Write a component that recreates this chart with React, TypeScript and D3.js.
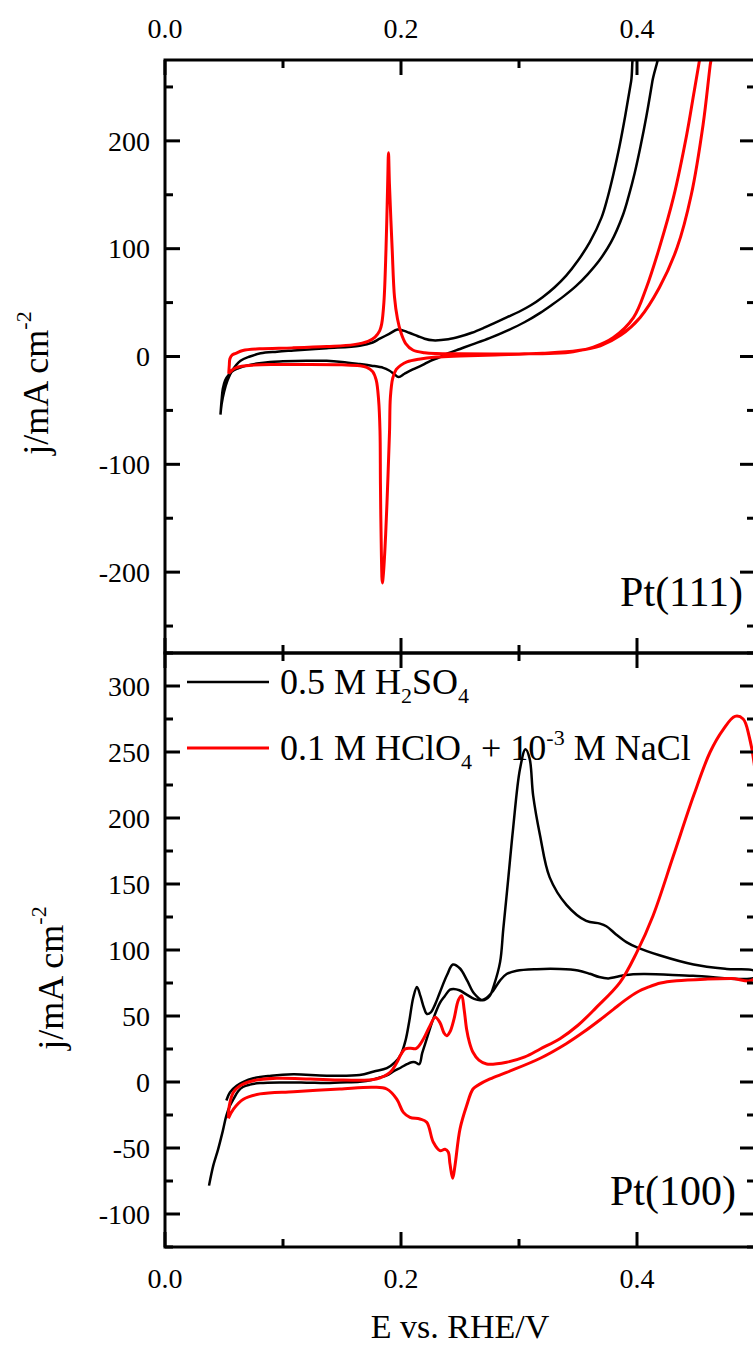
import * as d3 from "d3";

type Pt = [number, number];

// potential axis (V vs RHE)
const eTicks = [0, 0.1, 0.2, 0.3, 0.4, 0.5];
const eLabels = ["0.0", "", "0.2", "", "0.4", ""];

// current density ticks
const j111Ticks = [-250, -200, -150, -100, -50, 0, 50, 100, 150, 200, 250];
const j100Ticks = [-125, -100, -75, -50, -25, 0, 25, 50, 75, 100, 125, 150, 175, 200, 225, 250, 275, 300, 325];

// Pt(111), 0.5 M H2SO4
const pt111SulfAnodic: Pt[] = [
  [0.047, -54], [0.048, -44], [0.05, -33], [0.053, -22], [0.057, -13], [0.064, -4], [0.072, 0], [0.081, 3],
  [0.095, 4.5], [0.109, 5.6], [0.137, 7.7], [0.165, 10], [0.176, 13], [0.182, 16.5], [0.19, 21], [0.197, 25],
  [0.202, 24], [0.207, 22], [0.214, 19], [0.22, 16.5], [0.227, 15], [0.24, 16], [0.25, 18.5], [0.26, 22],
  [0.27, 26.5], [0.28, 31.5], [0.29, 36.5], [0.3, 41.5], [0.31, 47.5], [0.32, 55], [0.33, 64], [0.34, 75],
  [0.35, 89], [0.36, 106], [0.37, 129], [0.375, 147], [0.38, 169], [0.385, 194], [0.39, 223], [0.395, 255],
  [0.4, 290],
];
const pt111SulfCathodic: Pt[] = [
  [0.418, 290], [0.413, 255], [0.408, 223], [0.403, 195], [0.398, 170], [0.393, 149], [0.388, 131],
  [0.378, 106], [0.368, 89], [0.358, 76], [0.348, 65], [0.338, 56], [0.328, 48], [0.318, 40.5], [0.305, 32],
  [0.29, 24], [0.275, 17], [0.26, 11], [0.25, 7], [0.24, 3], [0.232, -1], [0.225, -4], [0.218, -8],
  [0.21, -12], [0.203, -16], [0.198, -19], [0.194, -16], [0.19, -13], [0.185, -10.5], [0.175, -8.5],
  [0.165, -7], [0.15, -5], [0.137, -4], [0.12, -4], [0.1, -4.5], [0.089, -5], [0.078, -6.5], [0.069, -8.5],
  [0.062, -11], [0.058, -13], [0.054, -17], [0.051, -22], [0.049, -30], [0.048, -40], [0.047, -54],
];

// Pt(111), 0.1 M HClO4 + 1e-3 M NaCl
const pt111ClAnodic: Pt[] = [
  [0.054, -16], [0.0545, -8], [0.055, -2], [0.057, 1.5], [0.06, 3], [0.066, 5.6], [0.08, 7.1], [0.108, 8],
  [0.137, 9.3], [0.16, 11], [0.172, 14], [0.178, 18], [0.182, 24], [0.1836, 30], [0.1855, 50], [0.1873, 100],
  [0.1887, 160], [0.1894, 189], [0.1902, 160], [0.1925, 100], [0.1945, 55], [0.197, 35], [0.2, 22],
  [0.204, 12], [0.21, 6], [0.22, 3.5], [0.23, 2.7], [0.25, 2.5], [0.3, 2.4], [0.33, 3], [0.346, 4.5],
  [0.363, 8.7], [0.38, 17.6], [0.397, 36], [0.408, 64], [0.419, 101], [0.431, 148], [0.442, 205],
  [0.448, 243], [0.453, 275], [0.456, 295],
];
const pt111ClCathodic: Pt[] = [
  [0.465, 295], [0.462, 270], [0.456, 215], [0.446, 150], [0.434, 101], [0.419, 64], [0.4025, 36],
  [0.386, 19.6], [0.369, 10], [0.35, 5.5], [0.32, 3], [0.28, 1.5], [0.25, 0.5], [0.23, -0.5], [0.215, -2.5],
  [0.205, -5], [0.2, -8], [0.196, -12], [0.193, -20], [0.191, -38], [0.1903, -69], [0.189, -110],
  [0.187, -165], [0.1852, -200], [0.1842, -210], [0.1834, -185], [0.1826, -120], [0.1822, -69],
  [0.181, -40], [0.179, -22], [0.176, -14], [0.171, -10], [0.165, -8.5], [0.15, -7.7], [0.12, -7.4],
  [0.09, -7.5], [0.075, -8], [0.065, -9], [0.06, -10.5], [0.057, -12.5], [0.055, -14.5], [0.054, -16],
];

// Pt(100), 0.5 M H2SO4
const pt100SulfAnodic: Pt[] = [
  [0.052, -14], [0.055, -8], [0.0607, -2.8], [0.0749, 2.8], [0.09, 4.8], [0.1088, 5.8], [0.137, 4.8],
  [0.165, 5.3], [0.177, 8], [0.188, 10.5], [0.195, 15], [0.2, 21], [0.204, 32], [0.207, 46], [0.2104, 64],
  [0.2135, 72], [0.2165, 65], [0.2195, 56], [0.222, 51.5], [0.2255, 53], [0.229, 59], [0.233, 68],
  [0.239, 81], [0.244, 89], [0.25, 86], [0.256, 77], [0.262, 67], [0.269, 62], [0.275, 65], [0.279, 74],
  [0.284, 91], [0.2867, 116], [0.291, 155], [0.295, 192], [0.3008, 237], [0.3055, 252], [0.309, 245],
  [0.312, 217], [0.3178, 187], [0.326, 155], [0.3404, 134], [0.357, 122], [0.3686, 120], [0.374, 118],
  [0.382, 112], [0.391, 106], [0.4, 102], [0.419, 96], [0.448, 89], [0.476, 85.6], [0.5, 84],
];
const pt100SulfCathodic: Pt[] = [
  [0.5, 79.3], [0.4475, 80.5], [0.4054, 81.8], [0.39, 81], [0.382, 79.5], [0.3757, 78.5], [0.368, 79.5],
  [0.36, 82], [0.35, 84.5], [0.3347, 85.6], [0.315, 85.5], [0.298, 84.3], [0.2895, 81.8], [0.284, 77],
  [0.278, 69], [0.272, 63.5], [0.2675, 62], [0.262, 63], [0.256, 66], [0.2495, 69.5], [0.2445, 70.5],
  [0.2415, 70], [0.237, 65], [0.233, 60], [0.2274, 48], [0.2218, 32.6], [0.218, 22], [0.2155, 13.5],
  [0.212, 15], [0.209, 15], [0.205, 13.5], [0.2, 11], [0.1935, 8], [0.188, 5], [0.182, 3.5], [0.175, 1.5],
  [0.165, 0.2], [0.148, -0.3], [0.137, -0.8], [0.12, -0.5], [0.0983, -0.3], [0.0805, -0.8], [0.072, -2],
  [0.066, -3.8], [0.062, -7], [0.058, -13], [0.055, -18], [0.052, -25.5], [0.049, -37], [0.045, -51],
  [0.041, -63], [0.0373, -78.5],
];

// Pt(100), 0.1 M HClO4 + 1e-3 M NaCl
const pt100ClAnodic: Pt[] = [
  [0.0537, -27.5], [0.0545, -18], [0.058, -7.8], [0.0636, -2.8], [0.0749, 1], [0.0946, 2.8], [0.123, 2.3],
  [0.151, 1.5], [0.179, 2.3], [0.1907, 7.3], [0.196, 14], [0.2, 21], [0.2034, 25], [0.208, 25.5],
  [0.213, 25.5], [0.219, 32.6], [0.2246, 42.7], [0.229, 49], [0.233, 45], [0.2365, 37], [0.2387, 35],
  [0.2415, 38], [0.245, 48], [0.2486, 62], [0.2514, 65.4], [0.2535, 55], [0.2556, 40], [0.258, 30],
  [0.261, 22.5], [0.266, 16.5], [0.2726, 13.6], [0.2895, 15], [0.305, 19], [0.318, 25], [0.335, 33],
  [0.35, 43], [0.365, 56], [0.3856, 75.5], [0.3997, 98], [0.4136, 126], [0.4307, 171], [0.448, 217],
  [0.462, 250], [0.473, 267], [0.483, 277], [0.49, 275], [0.495, 262], [0.5, 235],
];
const pt100ClCathodic: Pt[] = [
  [0.5, 78.5], [0.48, 78.5], [0.46, 78], [0.4336, 76.7], [0.42, 75], [0.41, 72], [0.4, 68], [0.39, 62],
  [0.38, 55], [0.37, 48], [0.355, 38], [0.34, 29], [0.318, 18], [0.2895, 7.3], [0.2754, 2.3], [0.266, -2],
  [0.261, -5.3], [0.2556, -18], [0.25, -35.6], [0.2458, -63], [0.2438, -73], [0.2415, -62], [0.24, -53],
  [0.2373, -51], [0.233, -52], [0.2274, -45.7], [0.2218, -30.5], [0.216, -28], [0.2076, -26.8],
  [0.202, -23], [0.1964, -12.9], [0.1879, -5.3], [0.1766, -4], [0.148, -5.3], [0.109, -7.3], [0.0805, -9],
  [0.0664, -13], [0.058, -20.5], [0.0537, -27.5],
];

const FONT = "'Liberation Serif', 'Times New Roman', serif";
const BLACK = "#000000";
const RED = "#ff0000";

const x = d3.scaleLinear().domain([0, 0.5]).range([165, 755]);
const y111 = d3.scaleLinear().domain([-275, 275]).range([653, 60]);
const y100 = d3.scaleLinear().domain([-125, 325]).range([1247, 653]);

const Panel = ({
  y,
  jTicks,
  major,
  id,
  curves,
  topLabels,
}: {
  y: d3.ScaleLinear<number, number>;
  jTicks: number[];
  major: number;
  id: string;
  curves: { data: Pt[]; color: string; width: number }[];
  topLabels: boolean;
}) => {
  const [x0, x1] = x.range();
  const [yb, yt] = y.range();
  const line = d3
    .line<Pt>()
    .x((d) => x(d[0]))
    .y((d) => y(d[1]))
    .curve(d3.curveCatmullRom.alpha(0.5));
  return (
    <g>
      <clipPath id={id}>
        <rect x={x0} y={yt} width={x1 - x0} height={yb - yt} />
      </clipPath>
      <g clipPath={`url(#${id})`}>
        {curves.map((c, i) => (
          <path key={i} d={line(c.data) || ""} fill="none" stroke={c.color} strokeWidth={c.width} strokeLinejoin="round" />
        ))}
      </g>
      {/* y ticks, left and right */}
      {jTicks.map((t) => {
        const len = t % major === 0 ? 15 : 8;
        return (
          <g key={t}>
            <line x1={x0} x2={x0 + len} y1={y(t)} y2={y(t)} stroke={BLACK} strokeWidth={3} />
            <line x1={x1} x2={x1 - len} y1={y(t)} y2={y(t)} stroke={BLACK} strokeWidth={3} />
            {t % major === 0 && (
              <text x={150} y={y(t)} dy="0.35em" textAnchor="end" fontFamily={FONT} fontSize={28}>
                {t}
              </text>
            )}
          </g>
        );
      })}
      {/* x ticks, top and bottom */}
      {eTicks.map((e, i) => {
        const len = i % 2 === 0 ? 15 : 8;
        return (
          <g key={e}>
            <line x1={x(e)} x2={x(e)} y1={yt} y2={yt + len} stroke={BLACK} strokeWidth={3} />
            <line x1={x(e)} x2={x(e)} y1={yb} y2={yb - len} stroke={BLACK} strokeWidth={3} />
            {eLabels[i] && (
              <text
                x={x(e)}
                y={topLabels ? yt - 22 : yb + 41}
                textAnchor="middle"
                fontFamily={FONT}
                fontSize={28}
              >
                {eLabels[i]}
              </text>
            )}
          </g>
        );
      })}
      <rect x={x0} y={yt} width={x1 - x0} height={yb - yt} fill="none" stroke={BLACK} strokeWidth={3} />
    </g>
  );
};

const YTitle = ({ cx, cy }: { cx: number; cy: number }) => (
  <text transform={`translate(${cx},${cy}) rotate(-90)`} textAnchor="middle" fontFamily={FONT} fontSize={36}>
    j/mA cm
    <tspan fontSize={22} dy={-17}>
      -2
    </tspan>
  </text>
);

export default function App() {
  return (
    <svg
      width={753}
      height={1351}
      style={{ position: "absolute", left: 0, top: 0, background: "#fff" }}
    >
      <rect width={753} height={1351} fill="#fff" />
      <Panel
        y={y111}
        jTicks={j111Ticks}
        major={100}
        id="clip111"
        topLabels={true}
        curves={[
          { data: [...pt111SulfAnodic, ...pt111SulfCathodic], color: BLACK, width: 2.5 },
          { data: [...pt111ClAnodic, ...pt111ClCathodic], color: RED, width: 3 },
        ]}
      />
      <Panel
        y={y100}
        jTicks={j100Ticks}
        major={50}
        id="clip100"
        topLabels={false}
        curves={[
          { data: [...pt100SulfAnodic, ...pt100SulfCathodic], color: BLACK, width: 2.5 },
          { data: [...pt100ClAnodic, ...pt100ClCathodic], color: RED, width: 3 },
        ]}
      />
      <YTitle cx={48} cy={383} />
      <YTitle cx={63} cy={978} />

      <text x={743} y={606} textAnchor="end" fontFamily={FONT} fontSize={42}>
        Pt(111)
      </text>
      <text x={736} y={1205} textAnchor="end" fontFamily={FONT} fontSize={42}>
        Pt(100)
      </text>

      {/* legend */}
      <line x1={187} x2={269} y1={682} y2={682} stroke={BLACK} strokeWidth={2.5} />
      <text x={280} y={694} fontFamily={FONT} fontSize={36}>
        0.5 M H<tspan fontSize={22} dy={9}>2</tspan>
        <tspan dy={-9}>SO</tspan>
        <tspan fontSize={22} dy={9}>4</tspan>
      </text>
      <line x1={187} x2={269} y1={748} y2={748} stroke={RED} strokeWidth={3} />
      <text x={280} y={760} fontFamily={FONT} fontSize={36}>
        0.1 M HClO<tspan fontSize={22} dy={9}>4</tspan>
        <tspan dy={-9}> + 10</tspan>
        <tspan fontSize={22} dy={-15}>-3</tspan>
        <tspan dy={15}> M NaCl</tspan>
      </text>

      <text x={460} y={1338} textAnchor="middle" fontFamily={FONT} fontSize={34}>
        E vs. RHE/V
      </text>
    </svg>
  );
}
